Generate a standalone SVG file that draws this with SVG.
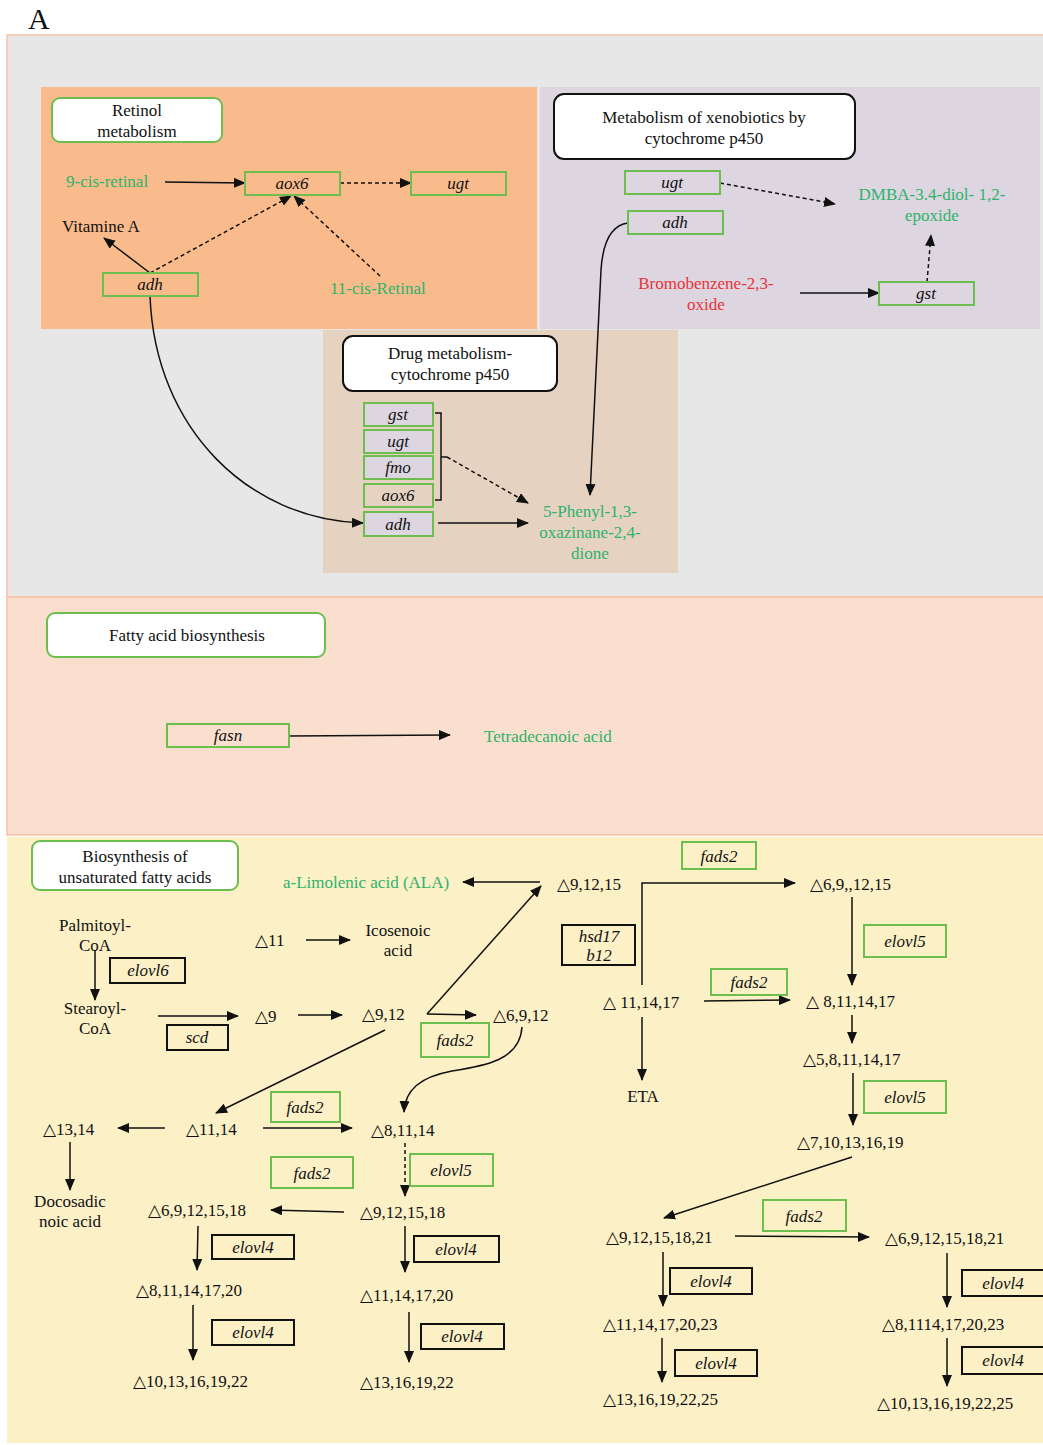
<svg xmlns="http://www.w3.org/2000/svg" width="1043" height="1445" viewBox="0 0 1043 1445">
<style>
text{font-family:"Liberation Serif","DejaVu Serif","DejaVu Sans",serif;font-size:17px;fill:#111}
.c{text-anchor:middle}
.g{fill:#2db36b}
.r{fill:#e8333a}
.i{font-style:italic}
.gb{fill:none;stroke:#6cbf4e;stroke-width:2}
.bb{fill:none;stroke:#111;stroke-width:2}
.lb{fill:#fff;stroke:#6cbf4e;stroke-width:2}
.kb{fill:#fff;stroke:#111;stroke-width:2}
.ln{fill:none;stroke:#111;stroke-width:1.5}
.ar{fill:none;stroke:#111;stroke-width:1.5;marker-end:url(#ah)}
.da{fill:none;stroke:#111;stroke-width:1.5;stroke-dasharray:4 3;marker-end:url(#ah)}
</style>
<defs>
<marker id="ah" markerUnits="userSpaceOnUse" markerWidth="12" markerHeight="10" refX="11" refY="5" orient="auto">
<path d="M0,0 L12,5 L0,10 z" fill="#111"/>
</marker>
</defs>
<rect width="1043" height="1445" fill="#fff"/>
<text x="28" y="29" style="font-size:30px">A</text>
<!-- panels -->
<rect x="7" y="35" width="1040" height="562" fill="#e7e7e7" stroke="#f7c1a5" stroke-width="1.5"/>
<rect x="41" y="87" width="496" height="242" fill="#f9bb8c"/>
<rect x="540" y="87" width="500" height="242" fill="#ddd5e0"/>
<rect x="323" y="330" width="355" height="243" fill="#e6d2c0"/>
<rect x="7" y="597" width="1040" height="238" fill="#fadfcf" stroke="#f7c1a5" stroke-width="1.5"/>
<rect x="7" y="837" width="1040" height="606" fill="#fcf0c7"/>

<g id="connectors">
<!-- retinol -->
<path class="ar" d="M165,182 L245,183"/>
<path class="da" d="M340,183 L411,183"/>
<path class="ar" d="M150,273 L104,238"/>
<path class="da" d="M150,273 L291,196"/>
<path class="da" d="M380,276 L294,196"/>
<path class="ar" d="M150,296 C155,430 250,520 363,523"/>
<!-- xenobiotics -->
<path class="da" d="M720,183 L835,204"/>
<path class="da" d="M927,282 L931,235"/>
<path class="ar" d="M800,293 L879,293"/>
<path class="ar" d="M628,223 C612,225 603,240 601,270 L590,495"/>
<!-- drug -->
<path class="ln" d="M435,413 L441,413 L441,500 L435,500 M441,457 L447,457"/>
<path class="da" d="M447,457 L528,503"/>
<path class="ar" d="M438,523 L528,523"/>
<!-- fatty acid -->
<path class="ar" d="M289,736 L450,735"/>
<!-- unsaturated -->
<path class="ar" d="M540,882 L463,882"/>
<path class="ar" d="M427,1014 L541,886"/>
<path class="ar" d="M427,1014 L476,1015"/>
<path class="ar" d="M385,1030 L216,1113"/>
<path class="ar" d="M522,1027 C520,1060 485,1066 452,1071 C420,1077 405,1090 404,1112"/>
<path class="ar" d="M95,950 L95,1000"/>
<path class="ar" d="M158,1016 L238,1016"/>
<path class="ar" d="M298,1015 L342,1015"/>
<path class="ar" d="M306,940 L350,940"/>
<path class="ar" d="M642,985 L642,883 L795,883"/>
<path class="ar" d="M852,897 L852,985"/>
<path class="ar" d="M642,1017 L642,1080"/>
<path class="ar" d="M704,1001 L790,1000"/>
<path class="ar" d="M852,1015 L852,1043"/>
<path class="ar" d="M853,1073 L853,1125"/>
<path class="ar" d="M852,1157 L664,1218"/>
<path class="ar" d="M735,1236 L869,1237"/>
<path class="ar" d="M663,1252 L663,1306"/>
<path class="ar" d="M662,1338 L662,1382"/>
<path class="ar" d="M947,1253 L947,1307"/>
<path class="ar" d="M947,1338 L947,1386"/>
<path class="ar" d="M165,1128 L118,1128"/>
<path class="ar" d="M263,1128 L352,1128"/>
<path class="da" d="M405,1143 L405,1196"/>
<path class="ar" d="M344,1212 L271,1210"/>
<path class="ar" d="M70,1142 L70,1190"/>
<path class="ar" d="M198,1226 L197,1270"/>
<path class="ar" d="M193,1305 L193,1360"/>
<path class="ar" d="M405,1226 L405,1272"/>
<path class="ar" d="M409,1312 L409,1362"/>
</g>

<!-- Retinol metabolism -->
<g id="retinol-label"><rect class="lb" x="52" y="98" width="170" height="44" rx="8"/><text class="c" x="137" y="116">Retinol</text><text class="c" x="137" y="137">metabolism</text></g>
<g id="n-9cis"><text class="g" x="66" y="187">9-cis-retinal</text></g>
<g id="n-aox6-r"><rect class="gb" x="245" y="172" width="95" height="23"/><text class="c i" x="292" y="189">aox6</text></g>
<g id="n-ugt-r"><rect class="gb" x="411" y="172" width="95" height="23"/><text class="c i" x="458" y="189">ugt</text></g>
<g id="n-vitA"><text x="62" y="232">Vitamine A</text></g>
<g id="n-adh-r"><rect class="gb" x="103" y="273" width="95" height="23"/><text class="c i" x="150" y="290">adh</text></g>
<g id="n-11cis"><text class="g" x="330" y="294">11-cis-Retinal</text></g>

<!-- Xenobiotics -->
<g id="xeno-label"><rect class="kb" x="554" y="94" width="301" height="65" rx="10"/><text class="c" x="704" y="123">Metabolism of xenobiotics by</text><text class="c" x="704" y="144">cytochrome p450</text></g>
<g id="n-ugt-x"><rect class="gb" x="625" y="171" width="95" height="23"/><text class="c i" x="672" y="188">ugt</text></g>
<g id="n-adh-x"><rect class="gb" x="628" y="211" width="95" height="23"/><text class="c i" x="675" y="228">adh</text></g>
<g id="n-dmba"><text class="c g" x="932" y="200">DMBA-3.4-diol- 1,2-</text><text class="c g" x="932" y="221">epoxide</text></g>
<g id="n-bromo"><text class="c r" x="706" y="289">Bromobenzene-2,3-</text><text class="c r" x="706" y="310">oxide</text></g>
<g id="n-gst-x"><rect class="gb" x="879" y="282" width="95" height="23"/><text class="c i" x="926" y="299">gst</text></g>

<!-- Drug metabolism -->
<g id="drug-label"><rect class="kb" x="343" y="336" width="214" height="55" rx="10"/><text class="c" x="450" y="359">Drug metabolism-</text><text class="c" x="450" y="380">cytochrome p450</text></g>
<g id="n-gst-d"><rect class="gb" x="364" y="403" width="69" height="23" style="fill:#ddd5e0"/><text class="c i" x="398" y="420">gst</text></g>
<g id="n-ugt-d"><rect class="gb" x="364" y="430" width="69" height="23" style="fill:#ddd5e0"/><text class="c i" x="398" y="447">ugt</text></g>
<g id="n-fmo-d"><rect class="gb" x="364" y="456" width="69" height="23" style="fill:#ddd5e0"/><text class="c i" x="398" y="473">fmo</text></g>
<g id="n-aox6-d"><rect class="gb" x="364" y="484" width="69" height="23"/><text class="c i" x="398" y="501">aox6</text></g>
<g id="n-adh-d"><rect class="gb" x="364" y="512" width="69" height="24" style="fill:#ddd5e0"/><text class="c i" x="398" y="530">adh</text></g>
<g id="n-phenyl"><text class="c g" x="590" y="517">5-Phenyl-1,3-</text><text class="c g" x="590" y="538">oxazinane-2,4-</text><text class="c g" x="590" y="559">dione</text></g>

<!-- Fatty acid biosynthesis -->
<g id="fab-label"><rect class="lb" x="47" y="613" width="278" height="44" rx="8"/><text class="c" x="187" y="641">Fatty acid biosynthesis</text></g>
<g id="n-fasn"><rect class="gb" x="167" y="724" width="122" height="23"/><text class="c i" x="228" y="741">fasn</text></g>
<g id="n-tetra"><text class="g" x="484" y="742">Tetradecanoic acid</text></g>

<!-- Unsaturated fatty acids -->
<g id="ufa-label"><rect class="lb" x="32" y="841" width="206" height="49" rx="8"/><text class="c" x="135" y="862">Biosynthesis of</text><text class="c" x="135" y="883">unsaturated fatty acids</text></g>
<g id="n-ala"><text class="g" x="283" y="888">a-Limolenic acid (ALA)</text></g>
<g id="n-d91215"><text x="557" y="890">△9,12,15</text></g>
<g id="n-fads2-a"><rect class="gb" x="682" y="842" width="74" height="27"/><text class="c i" x="719" y="862">fads2</text></g>
<g id="n-d691215"><text x="810" y="890">△6,9,,12,15</text></g>
<g id="n-palm"><text class="c" x="95" y="931">Palmitoyl-</text><text class="c" x="95" y="951">CoA</text></g>
<g id="n-elovl6"><rect class="bb" x="110" y="958" width="75" height="25"/><text class="c i" x="148" y="976">elovl6</text></g>
<g id="n-stear"><text class="c" x="95" y="1014">Stearoyl-</text><text class="c" x="95" y="1034">CoA</text></g>
<g id="n-scd"><rect class="bb" x="167" y="1025" width="61" height="25"/><text class="c i" x="197" y="1043">scd</text></g>
<g id="n-d11"><text x="255" y="946">△11</text></g>
<g id="n-icos"><text class="c" x="398" y="936">Icosenoic</text><text class="c" x="398" y="956">acid</text></g>
<g id="n-d9"><text x="255" y="1022">△9</text></g>
<g id="n-d912"><text x="362" y="1020">△9,12</text></g>
<g id="n-fads2-b"><rect class="gb" x="421" y="1023" width="68" height="34"/><text class="c i" x="455" y="1046">fads2</text></g>
<g id="n-d6912"><text x="493" y="1021">△6,9,12</text></g>
<g id="n-hsd"><rect class="bb" x="562" y="925" width="73" height="40"/><text class="c i" x="599" y="942">hsd17</text><text class="c i" x="599" y="961">b12</text></g>
<g id="n-elovl5-a"><rect class="gb" x="864" y="925" width="82" height="32"/><text class="c i" x="905" y="947">elovl5</text></g>
<g id="n-d111417"><text x="603" y="1008">△ 11,14,17</text></g>
<g id="n-fads2-c"><rect class="gb" x="711" y="969" width="76" height="26"/><text class="c i" x="749" y="988">fads2</text></g>
<g id="n-d8111417"><text x="806" y="1007">△ 8,11,14,17</text></g>
<g id="n-eta"><text class="c" x="643" y="1102">ETA</text></g>
<g id="n-d58"><text x="803" y="1065">△5,8,11,14,17</text></g>
<g id="n-elovl5-b"><rect class="gb" x="864" y="1081" width="82" height="32"/><text class="c i" x="905" y="1103">elovl5</text></g>
<g id="n-d710"><text x="797" y="1148">△7,10,13,16,19</text></g>
<g id="n-d1314"><text x="43" y="1135">△13,14</text></g>
<g id="n-d1114"><text x="186" y="1135">△11,14</text></g>
<g id="n-fads2-d"><rect class="gb" x="271" y="1092" width="69" height="30"/><text class="c i" x="305" y="1113">fads2</text></g>
<g id="n-d81114"><text x="371" y="1136">△8,11,14</text></g>
<g id="n-doco"><text class="c" x="70" y="1207">Docosadic</text><text class="c" x="70" y="1227">noic acid</text></g>
<g id="n-fads2-e"><rect class="gb" x="271" y="1157" width="82" height="31"/><text class="c i" x="312" y="1179">fads2</text></g>
<g id="n-elovl5-c"><rect class="gb" x="410" y="1154" width="83" height="32"/><text class="c i" x="451" y="1176">elovl5</text></g>
<g id="n-d6918"><text x="148" y="1216">△6,9,12,15,18</text></g>
<g id="n-d9918"><text x="360" y="1218">△9,12,15,18</text></g>
<g id="n-elovl4-a"><rect class="bb" x="212" y="1235" width="82" height="24"/><text class="c i" x="253" y="1253">elovl4</text></g>
<g id="n-elovl4-b"><rect class="bb" x="414" y="1236" width="85" height="26"/><text class="c i" x="456" y="1255">elovl4</text></g>
<g id="n-d820"><text x="136" y="1296">△8,11,14,17,20</text></g>
<g id="n-d1120"><text x="360" y="1301">△11,14,17,20</text></g>
<g id="n-elovl4-c"><rect class="bb" x="212" y="1320" width="82" height="25"/><text class="c i" x="253" y="1338">elovl4</text></g>
<g id="n-elovl4-d"><rect class="bb" x="421" y="1324" width="83" height="25"/><text class="c i" x="462" y="1342">elovl4</text></g>
<g id="n-d1022"><text x="133" y="1387">△10,13,16,19,22</text></g>
<g id="n-d1322"><text x="360" y="1388">△13,16,19,22</text></g>
<g id="n-d921"><text x="606" y="1243">△9,12,15,18,21</text></g>
<g id="n-fads2-f"><rect class="gb" x="763" y="1200" width="83" height="31"/><text class="c i" x="804" y="1222">fads2</text></g>
<g id="n-d621"><text x="885" y="1244">△6,9,12,15,18,21</text></g>
<g id="n-elovl4-e"><rect class="bb" x="670" y="1268" width="82" height="26"/><text class="c i" x="711" y="1287">elovl4</text></g>
<g id="n-elovl4-f"><rect class="bb" x="962" y="1270" width="90" height="26"/><text class="c i" x="1003" y="1289">elovl4</text></g>
<g id="n-d1123"><text x="603" y="1330">△11,14,17,20,23</text></g>
<g id="n-d823"><text x="882" y="1330">△8,1114,17,20,23</text></g>
<g id="n-elovl4-g"><rect class="bb" x="675" y="1350" width="82" height="26"/><text class="c i" x="716" y="1369">elovl4</text></g>
<g id="n-elovl4-h"><rect class="bb" x="962" y="1347" width="90" height="27"/><text class="c i" x="1003" y="1366">elovl4</text></g>
<g id="n-d1325"><text x="603" y="1405">△13,16,19,22,25</text></g>
<g id="n-d1025"><text x="877" y="1409">△10,13,16,19,22,25</text></g>
</svg>
